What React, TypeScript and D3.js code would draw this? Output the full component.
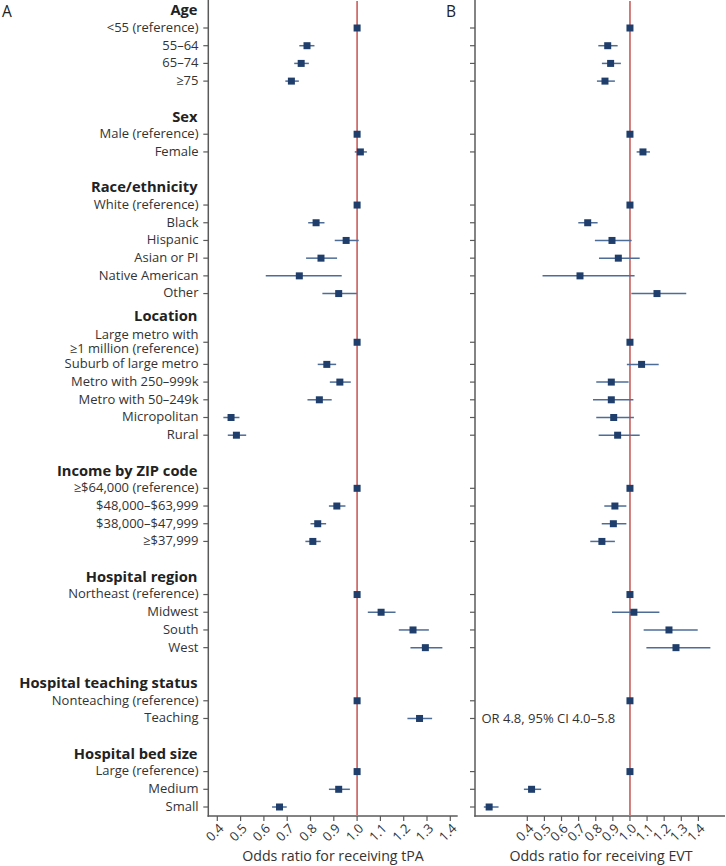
import React from "react";
import * as d3 from "d3";

const groupTitles = [
  "Age",
  "Sex",
  "Race/ethnicity",
  "Location",
  "Income by ZIP code",
  "Hospital region",
  "Hospital teaching status",
  "Hospital bed size",
];

const groupItems: string[][] = [
  ["<55 (reference)", "55–64", "65–74", "≥75"],
  ["Male (reference)", "Female"],
  ["White (reference)", "Black", "Hispanic", "Asian or PI", "Native American", "Other"],
  [
    "Large metro with\n≥1 million (reference)",
    "Suburb of large metro",
    "Metro with 250–999k",
    "Metro with 50–249k",
    "Micropolitan",
    "Rural",
  ],
  ["≥$64,000 (reference)", "$48,000–$63,999", "$38,000–$47,999", "≥$37,999"],
  ["Northeast (reference)", "Midwest", "South", "West"],
  ["Nonteaching (reference)", "Teaching"],
  ["Large (reference)", "Medium", "Small"],
];

// blank rows after each group
const gapAfter = [1, 1, 0, 1, 1, 1, 1, 0];

const tpaOR = [
  1, 0.785, 0.76, 0.718,
  1, 1.014,
  1, 0.824, 0.953, 0.845, 0.752, 0.921,
  1, 0.87, 0.926, 0.838, 0.459, 0.482,
  1, 0.913, 0.831, 0.81,
  1, 1.103, 1.24, 1.293,
  1, 1.268,
  1, 0.921, 0.667,
];
const tpaLo = [
  1, 0.752, 0.73, 0.692,
  1, 0.99,
  1, 0.79, 0.904, 0.781, 0.608, 0.851,
  1, 0.831, 0.883, 0.787, 0.426, 0.445,
  1, 0.879, 0.8, 0.778,
  1, 1.046, 1.179, 1.229,
  1, 1.216,
  1, 0.879, 0.635,
];
const tpaHi = [
  1, 0.817, 0.793, 0.75,
  1, 1.042,
  1, 0.86, 1.007, 0.914, 0.934, 0.999,
  1, 0.91, 0.973, 0.891, 0.495, 0.524,
  1, 0.95, 0.867, 0.844,
  1, 1.165, 1.308, 1.366,
  1, 1.322,
  1, 0.969, 0.698,
];

const evtOR: (number | null)[] = [
  1, 0.87, 0.887, 0.854,
  1, 1.076,
  1, 0.753, 0.895, 0.932, 0.708, 1.158,
  1, 1.068, 0.891, 0.891, 0.905, 0.928,
  1, 0.912, 0.903, 0.836,
  1, 1.023, 1.228, 1.269,
  1, null,
  1, 0.425, 0.177,
];
const evtLo: (number | null)[] = [
  1, 0.815, 0.836, 0.807,
  1, 1.039,
  1, 0.698, 0.795, 0.819, 0.489, 1.008,
  1, 0.982, 0.803, 0.784, 0.803, 0.817,
  1, 0.85, 0.835, 0.768,
  1, 0.895, 1.08, 1.096,
  1, null,
  1, 0.38, 0.146,
];
const evtHi: (number | null)[] = [
  1, 0.928, 0.947, 0.912,
  1, 1.117,
  1, 0.811, 1.01, 1.057, 1.027, 1.329,
  1, 1.168, 0.992, 1.02, 1.023, 1.057,
  1, 0.979, 0.979, 0.912,
  1, 1.172, 1.396, 1.47,
  1, null,
  1, 0.481, 0.232,
];

const evtNote = "OR 4.8, 95% CI 4.0–5.8";
const tickValues = [0.4, 0.5, 0.6, 0.7, 0.8, 0.9, 1.0, 1.1, 1.2, 1.3, 1.4];
const panelTitles = ["A", "B"];
const axisTitles = ["Odds ratio for receiving tPA", "Odds ratio for receiving EVT"];

const FONT = "'Open Sans', 'Noto Sans', sans-serif";
const POINT = "#1f3e6b";
const CI = "#4d6d98";
const REF = "#cf6f6c";
const AXIS = "#5a5a5a";
const TEXT = "#333";

type Row = { label: string; slot: number; idx: number };
type Header = { title: string; slot: number };

function buildLayout() {
  const rows: Row[] = [];
  const headers: Header[] = [];
  let slot = -1;
  let idx = 0;
  groupTitles.forEach((title, g) => {
    const items = groupItems[g];
    const firstMulti = items[0].includes("\n");
    headers.push({ title, slot: slot + (firstMulti ? 0.25 : 0) });
    slot += 1;
    items.forEach((label, i) => {
      const n = label.split("\n").length;
      const nudge = i === 0 && firstMulti ? 0.25 : 0;
      rows.push({ label, slot: slot + (n - 1) / 2 + nudge, idx });
      slot += n;
      idx += 1;
    });
    slot += gapAfter[g];
  });
  return { rows, headers };
}

export default function App() {
  const { rows, headers } = buildLayout();
  const y = d3.scaleLinear().domain([0, 44]).range([28, 807]);
  const axisY = 816;

  const panels = [
    {
      x: d3.scaleLinear().domain([0.4, 1.4]).range([217.3, 450.3]),
      left: 208.3,
      right: 457.7,
      or: tpaOR as (number | null)[],
      lo: tpaLo as (number | null)[],
      hi: tpaHi as (number | null)[],
    },
    {
      x: d3.scaleLinear().domain([0.4, 1.4]).range([527.3, 698.4]),
      left: 475,
      right: 725,
      or: evtOR,
      lo: evtLo,
      hi: evtHi,
    },
  ];

  const teachingRow = rows.find((r) => r.label === "Teaching")!;

  return (
    <svg
      width={726}
      height={866}
      style={{ position: "absolute", left: 0, top: 0, display: "block", background: "#fff" }}
      fontFamily={FONT}
    >
      <rect x={0} y={0} width={726} height={866} fill="#fff" />
      {/* Panel letters */}
      <text x={2} y={17} fontSize={15.5} fill="#222">{panelTitles[0]}</text>
      <text x={446} y={17} fontSize={15.5} fill="#222">{panelTitles[1]}</text>

      {/* Row labels */}
      {headers.map((h) => (
        <text
          key={h.title}
          x={197.5}
          y={y(h.slot)}
          dy="0.35em"
          textAnchor="end"
          fontSize={14.7}
          fontWeight={700}
          fill="#222"
        >
          {h.title}
        </text>
      ))}
      {rows.map((r) => {
        const lines = r.label.split("\n");
        return (
          <text key={r.label} x={198.5} y={y(r.slot)} textAnchor="end" fontSize={13} fill={TEXT}>
            {lines.map((ln, i) => (
              <tspan
                key={i}
                x={198.5}
                dy={i === 0 ? `${0.35 - ((lines.length - 1) * 1.12) / 2 - 0.05}em` : "1.12em"}
              >
                {ln}
              </tspan>
            ))}
          </text>
        );
      })}

      {panels.map((p, pi) => (
        <g key={pi}>
          {/* vertical axis */}
          <line x1={p.left} x2={p.left} y1={0} y2={axisY + 0.75} stroke={AXIS} strokeWidth={1.5} />
          {rows.map((r) => (
            <line
              key={r.label}
              x1={p.left - 5}
              x2={p.left}
              y1={y(r.slot)}
              y2={y(r.slot)}
              stroke={AXIS}
              strokeWidth={1.2}
            />
          ))}
          {/* horizontal axis */}
          <line x1={p.left - 0.75} x2={p.right} y1={axisY} y2={axisY} stroke={AXIS} strokeWidth={1.5} />
          {tickValues.map((t) => (
            <g key={t}>
              <line x1={p.x(t)} x2={p.x(t)} y1={axisY} y2={axisY + 5} stroke={AXIS} strokeWidth={1.2} />
              <text
                transform={`translate(${p.x(t) + 4},${axisY + 10}) rotate(-45)`}
                textAnchor="end"
                dy="0.35em"
                fontSize={13}
                fill={TEXT}
              >
                {d3.format(".1f")(t)}
              </text>
            </g>
          ))}
          <text
            x={pi === 0 ? 333 : 601}
            y={856}
            dy="0.35em"
            textAnchor="middle"
            fontSize={14.2}
            fill={TEXT}
          >
            {axisTitles[pi]}
          </text>

          {/* reference line */}
          <line x1={p.x(1)} x2={p.x(1)} y1={1} y2={axisY} stroke={REF} strokeWidth={1.8} />

          {/* CIs */}
          {rows.map((r) => {
            const lo = p.lo[r.idx];
            const hi = p.hi[r.idx];
            if (lo == null || hi == null || lo === hi) return null;
            return (
              <line
                key={"ci" + r.label}
                x1={p.x(lo)}
                x2={p.x(hi)}
                y1={y(r.slot)}
                y2={y(r.slot)}
                stroke={CI}
                strokeWidth={1.5}
              />
            );
          })}
          {/* points */}
          {rows.map((r) => {
            const v = p.or[r.idx];
            if (v == null) return null;
            return (
              <rect
                key={"pt" + r.label}
                x={p.x(v) - 3.5}
                y={y(r.slot) - 3.5}
                width={7}
                height={7}
                fill={POINT}
              />
            );
          })}
        </g>
      ))}

      <text x={481.5} y={y(teachingRow.slot)} dy="0.35em" fontSize={13} fill={TEXT}>
        {evtNote}
      </text>
    </svg>
  );
}
